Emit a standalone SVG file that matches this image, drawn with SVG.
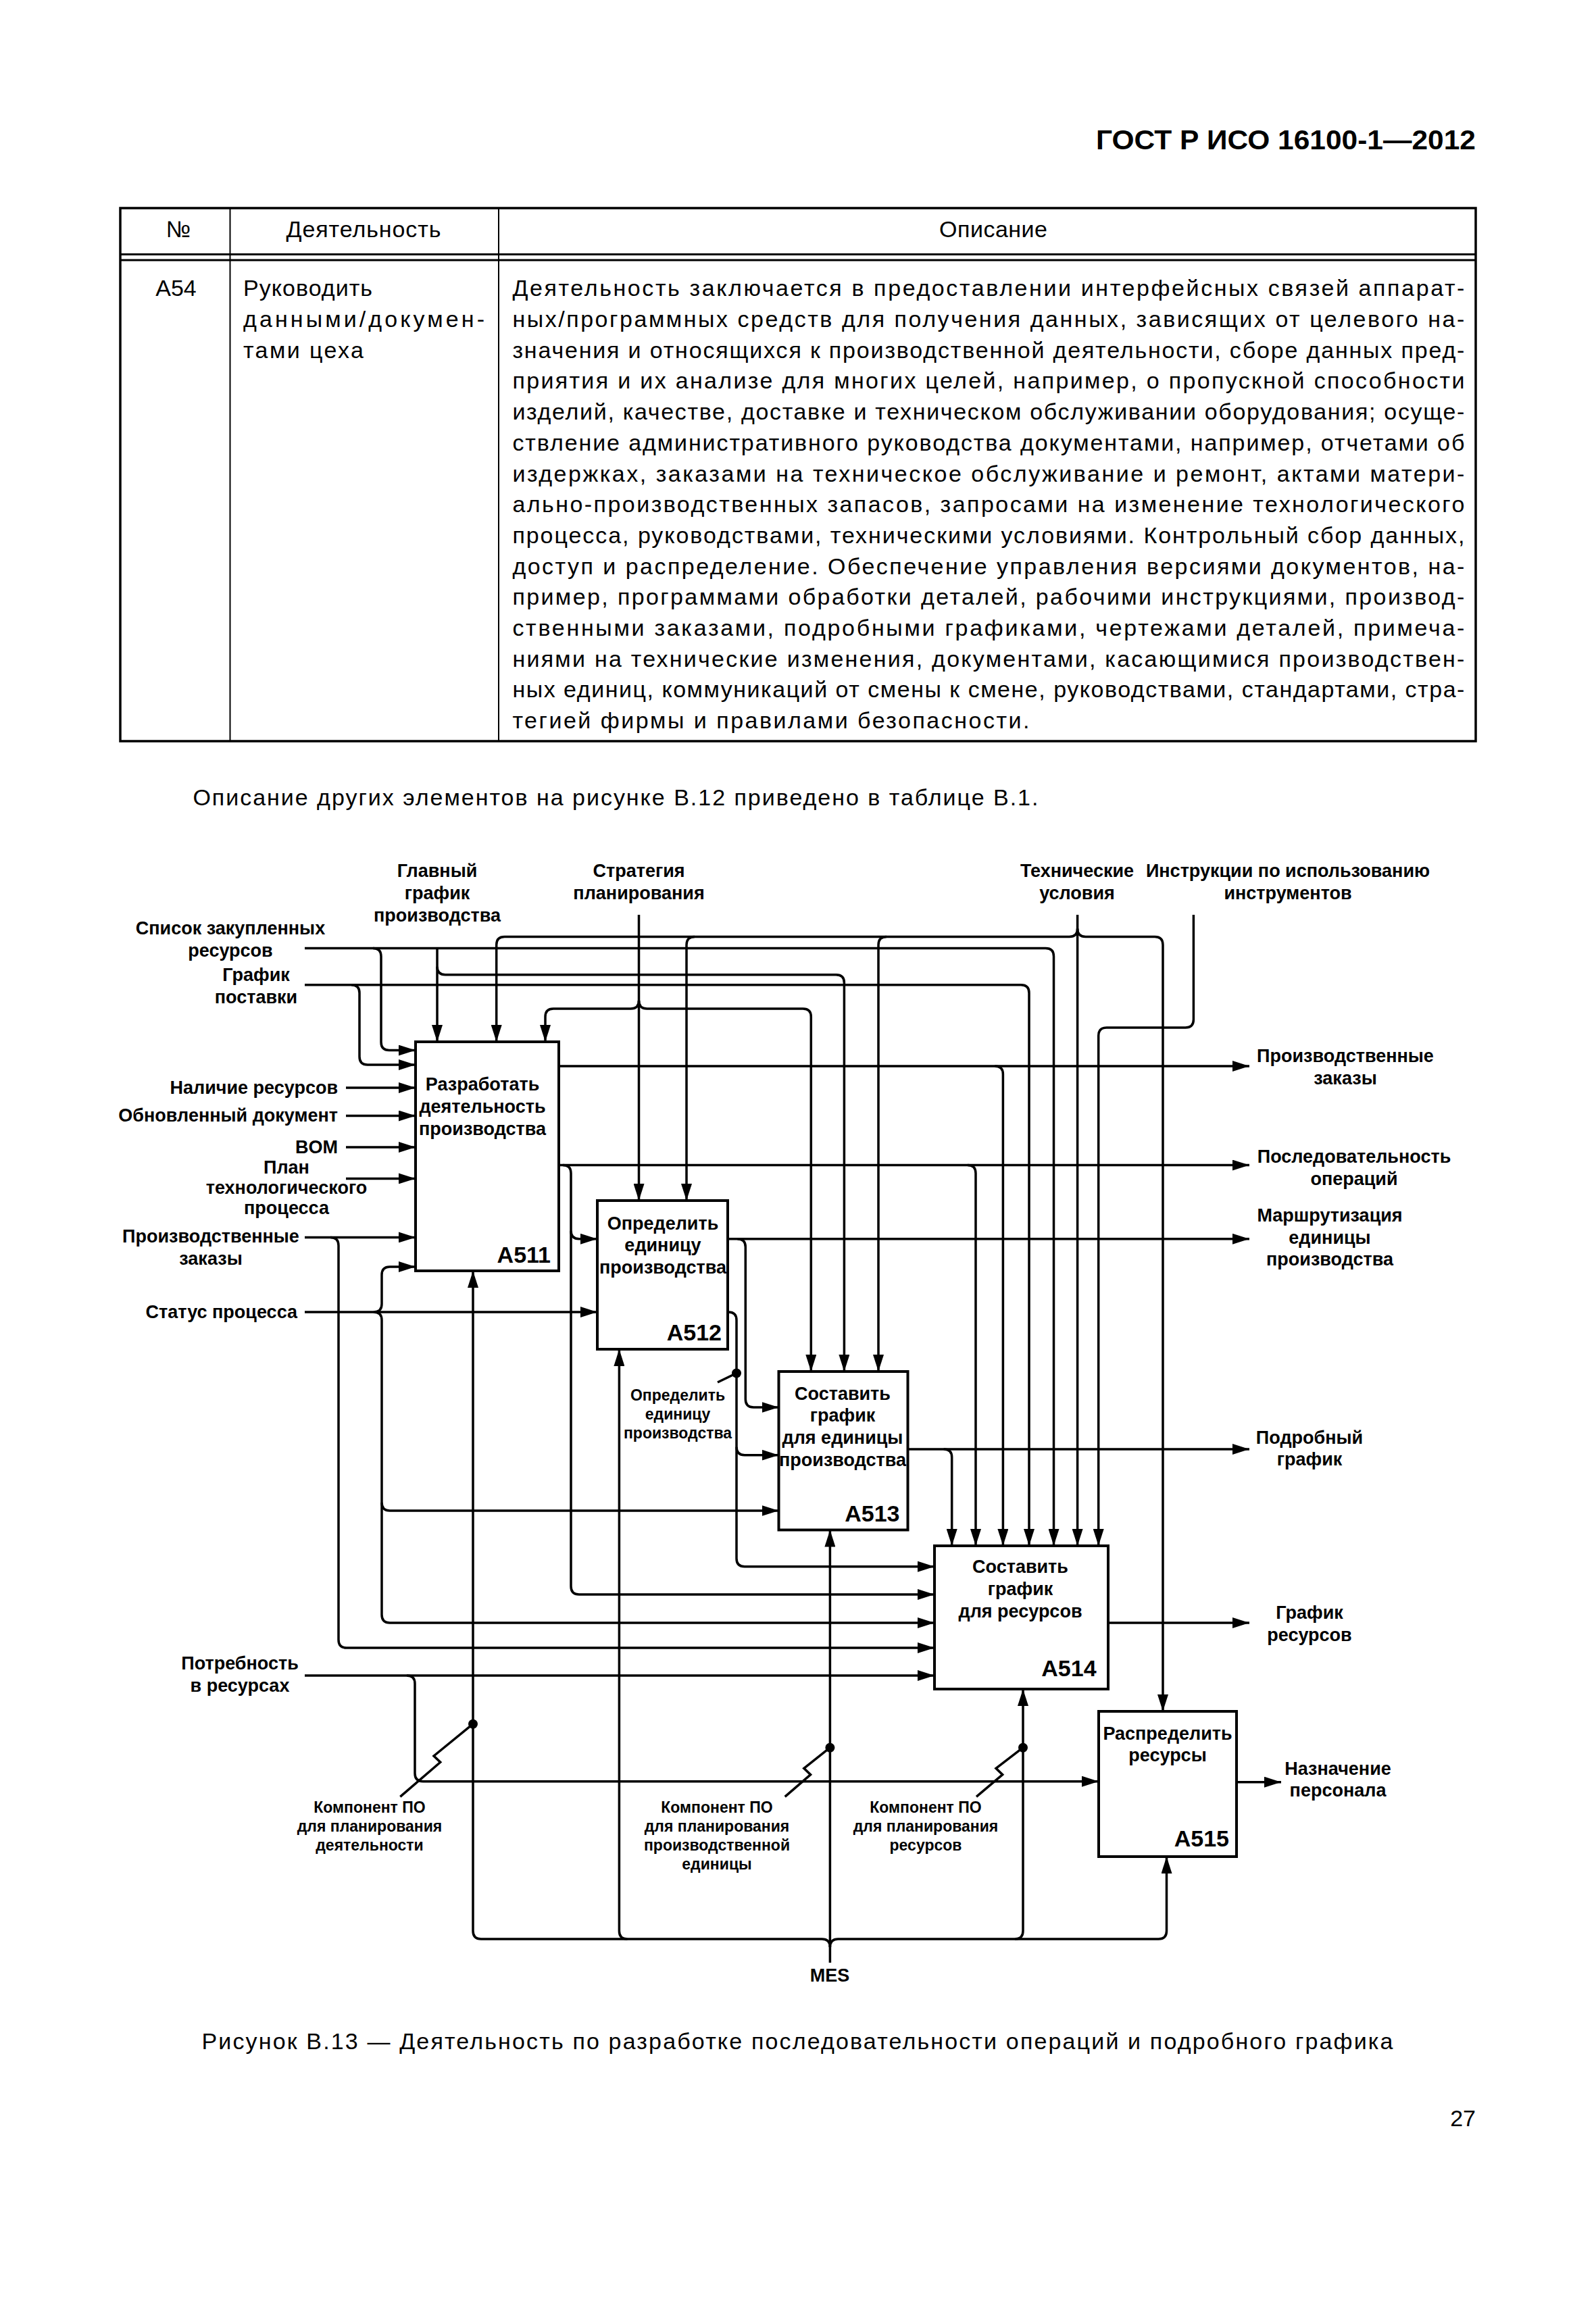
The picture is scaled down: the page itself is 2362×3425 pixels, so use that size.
<svg xmlns="http://www.w3.org/2000/svg" width="2362" height="3425" viewBox="0 0 2362 3425">
<style>
.t{font-family:"Liberation Sans",Arial,sans-serif;font-size:34px;fill:#000}
.tm{text-anchor:middle}
.d{font-family:"Liberation Sans",Arial,sans-serif;font-size:27px;font-weight:bold;text-anchor:middle;fill:#000}
.de{text-anchor:end}
.s{font-family:"Liberation Sans",Arial,sans-serif;font-size:23px;font-weight:bold;text-anchor:middle;fill:#000}
.id{font-family:"Liberation Sans",Arial,sans-serif;font-size:34px;font-weight:bold;text-anchor:end;fill:#000}
.c{fill:none;stroke:#000;stroke-width:3.5}
.a{marker-end:url(#ah)}
.box{fill:#fff;stroke:#000;stroke-width:4}
.tb{fill:none;stroke:#000}
</style>
<defs>
<marker id="ah" markerUnits="userSpaceOnUse" markerWidth="26" markerHeight="16" refX="25" refY="8" orient="auto"><path d="M0,0 L25,8 L0,16 Z" fill="#000"/></marker>
</defs>
<rect width="2362" height="3425" fill="#fff"/>
<text x="2184" y="221" text-anchor="end" font-family="Liberation Sans, Arial, sans-serif" font-weight="bold" font-size="41" textLength="562" lengthAdjust="spacingAndGlyphs">ГОСТ Р ИСО 16100-1—2012</text>
<g id="table">
<rect class="tb" x="178" y="308" width="2006" height="789" stroke-width="3.5"/>
<line class="tb" x1="340.5" y1="308" x2="340.5" y2="1097" stroke-width="2"/>
<line class="tb" x1="738" y1="308" x2="738" y2="1097" stroke-width="2"/>
<line class="tb" x1="178" y1="376.5" x2="2184" y2="376.5" stroke-width="2.8"/>
<line class="tb" x1="178" y1="385" x2="2184" y2="385" stroke-width="2.8"/>
<text class="t tm" x="264" y="351">№</text>
<text class="t tm" x="538" y="351" textLength="229" lengthAdjust="spacing">Деятельность</text>
<text class="t tm" x="1470" y="351" textLength="160" lengthAdjust="spacing">Описание</text>
<text class="t tm" x="260.5" y="438">A54</text>
<text class="t" x="360" y="438.3" textLength="191" lengthAdjust="spacing">Руководить</text>
<text class="t" x="360" y="484" textLength="357" lengthAdjust="spacing">данными/докумен-</text>
<text class="t" x="360" y="529.7" textLength="178" lengthAdjust="spacing">тами цеха</text>
<text class="t" x="758.4" y="438.3" textLength="1409" lengthAdjust="spacing">Деятельность заключается в предоставлении интерфейсных связей аппарат-</text>
<text class="t" x="758.4" y="484" textLength="1409" lengthAdjust="spacing">ных/программных средств для получения данных, зависящих от целевого на-</text>
<text class="t" x="758.4" y="529.7" textLength="1409" lengthAdjust="spacing">значения и относящихся к производственной деятельности, сборе данных пред-</text>
<text class="t" x="758.4" y="575.4" textLength="1409" lengthAdjust="spacing">приятия и их анализе для многих целей, например, о пропускной способности</text>
<text class="t" x="758.4" y="621.1" textLength="1409" lengthAdjust="spacing">изделий, качестве, доставке и техническом обслуживании оборудования; осуще-</text>
<text class="t" x="758.4" y="666.8" textLength="1409" lengthAdjust="spacing">ствление административного руководства документами, например, отчетами об</text>
<text class="t" x="758.4" y="712.5" textLength="1409" lengthAdjust="spacing">издержках, заказами на техническое обслуживание и ремонт, актами матери-</text>
<text class="t" x="758.4" y="758.2" textLength="1409" lengthAdjust="spacing">ально-производственных запасов, запросами на изменение технологического</text>
<text class="t" x="758.4" y="803.9" textLength="1409" lengthAdjust="spacing">процесса, руководствами, техническими условиями. Контрольный сбор данных,</text>
<text class="t" x="758.4" y="849.6" textLength="1409" lengthAdjust="spacing">доступ и распределение. Обеспечение управления версиями документов, на-</text>
<text class="t" x="758.4" y="895.3" textLength="1409" lengthAdjust="spacing">пример, программами обработки деталей, рабочими инструкциями, производ-</text>
<text class="t" x="758.4" y="941" textLength="1409" lengthAdjust="spacing">ственными заказами, подробными графиками, чертежами деталей, примеча-</text>
<text class="t" x="758.4" y="986.7" textLength="1409" lengthAdjust="spacing">ниями на технические изменения, документами, касающимися производствен-</text>
<text class="t" x="758.4" y="1032.4" textLength="1409" lengthAdjust="spacing">ных единиц, коммуникаций от смены к смене, руководствами, стандартами, стра-</text>
<text class="t" x="758.4" y="1078.1" textLength="765" lengthAdjust="spacing">тегией фирмы и правилами безопасности.</text>
</g>
<text class="t" x="285.4" y="1192" textLength="1251" lengthAdjust="spacing">Описание других элементов на рисунке В.12 приведено в таблице В.1.</text>

<g id="connectors">
<!-- Список закупленных ресурсов -->
<path class="c a" d="M451,1403.5 H1547.5 Q1559.5,1403.5 1559.5,1415.5 V2288"/>
<path class="c a" d="M552,1403.5 Q564,1403.5 564,1415.5 V1542.6 Q564,1554.6 576,1554.6 H615"/>
<!-- График поставки -->
<path class="c a" d="M451,1457.7 H1511 Q1523,1457.7 1523,1469.7 V2288"/>
<path class="c a" d="M520,1457.7 Q532,1457.7 532,1469.7 V1564 Q532,1576 544,1576 H615"/>
<!-- simple inputs -->
<path class="c a" d="M512,1610 H615"/>
<path class="c a" d="M512,1651.5 H615"/>
<path class="c a" d="M512,1698 H615"/>
<path class="c a" d="M512,1744.4 H615"/>
<!-- Производственные заказы (input) -->
<path class="c a" d="M451,1831.4 H615"/>
<path class="c a" d="M489,1831.4 Q501,1831.4 501,1843.4 V2427 Q501,2439 513,2439 H1383"/>
<!-- Статус процесса -->
<path class="c a" d="M451,1942 H884"/>
<path class="c a" d="M553,1942 Q565,1942 565,1930 V1887 Q565,1875 577,1875 H615"/>
<path class="c a" d="M553,1942 Q565,1942 565,1954 V2224 Q565,2236 577,2236 H1152.5"/>
<path class="c a" d="M565,2224 V2390 Q565,2402 577,2402 H1383"/>
<!-- Потребность в ресурсах -->
<path class="c a" d="M451,2480 H1383"/>
<path class="c a" d="M602,2480 Q614,2480 614,2492 V2624.7 Q614,2636.7 626,2636.7 H1626"/>
<!-- Главный график производства -->
<path class="c a" d="M647,1404 V1542"/>
<path class="c a" d="M647,1430.7 Q647,1442.7 659,1442.7 H1237.4 Q1249.4,1442.7 1249.4,1454.7 V2030"/>
<!-- Стратегия планирования -->
<path class="c a" d="M945.5,1354 V1777"/>
<path class="c a" d="M945.5,1481 Q945.5,1493 933.5,1493 H819 Q807,1493 807,1505 V1542"/>
<path class="c a" d="M945.5,1481 Q945.5,1493 957.5,1493 H1188.3 Q1200.3,1493 1200.3,1505 V2030"/>
<!-- Технические условия -->
<path class="c a" d="M1594.6,1354 V2288"/>
<path class="c a" d="M1594.6,1374.5 Q1594.6,1386.5 1582.6,1386.5 H746.7 Q734.7,1386.5 734.7,1398.5 V1542"/>
<path class="c a" d="M1594.6,1374.5 Q1594.6,1386.5 1606.6,1386.5 H1709 Q1721,1386.5 1721,1398.5 V2533"/>
<path class="c a" d="M1028,1386.5 Q1016,1386.5 1016,1398.5 V1777"/>
<path class="c a" d="M1312,1386.5 Q1300,1386.5 1300,1398.5 V2030"/>
<!-- Инструкции -->
<path class="c a" d="M1766.4,1354 V1509 Q1766.4,1521 1754.4,1521 H1637.7 Q1625.7,1521 1625.7,1533 V2288"/>
<!-- A511 outputs -->
<path class="c a" d="M827,1578 H1849"/>
<path class="c a" d="M1472.4,1578 Q1484.4,1578 1484.4,1590 V2288"/>
<path class="c a" d="M827,1724.6 H1849"/>
<path class="c a" d="M1432,1724.6 Q1444,1724.6 1444,1736.6 V2288"/>
<path class="c a" d="M833,1724.6 Q845,1724.6 845,1736.6 V1821.8 Q845,1833.8 857,1833.8 H884"/>
<path class="c a" d="M845,1821.8 V2348 Q845,2360 857,2360 H1383"/>
<!-- A512 outputs -->
<path class="c a" d="M1077,1833.8 H1849"/>
<path class="c a" d="M1091.3,1833.8 Q1103.3,1833.8 1103.3,1845.8 V2071 Q1103.3,2083 1115.3,2083 H1152.5"/>
<path class="c a" d="M1077,1942 H1078 Q1090,1942 1090,1954 V2141.7 Q1090,2153.7 1102,2153.7 H1152.5"/>
<path class="c a" d="M1090,2141.7 V2306.7 Q1090,2318.7 1102,2318.7 H1383"/>
<!-- A513 output -->
<path class="c a" d="M1343.4,2145 H1849"/>
<path class="c a" d="M1396.7,2145 Q1408.7,2145 1408.7,2157 V2288"/>
<!-- A514 output -->
<path class="c a" d="M1640,2402 H1849"/>
<!-- A515 output -->
<path class="c a" d="M1830,2637.7 H1896"/>
<!-- MES -->
<path class="c a" d="M1228.4,2905 V2264.5"/>
<path class="c a" d="M1228.4,2882 Q1228.4,2870 1216.4,2870 H712 Q700,2870 700,2858 V1881"/>
<path class="c a" d="M928.4,2870 Q916.4,2870 916.4,2858 V1997"/>
<path class="c a" d="M1228.4,2882 Q1228.4,2870 1240.4,2870 H1714.5 Q1726.5,2870 1726.5,2858 V2748"/>
<path class="c a" d="M1502,2870 Q1514,2870 1514,2858 V2500"/>
<!-- call arrows -->
<circle cx="700" cy="2551.7" r="7"/>
<path class="c" d="M700,2551.7 L642,2599 L651.7,2608.3 L592.3,2659.3"/>
<circle cx="1228.4" cy="2586.7" r="7"/>
<path class="c" d="M1228.4,2586.7 L1189.8,2617.3 L1199.6,2626.7 L1161.7,2659.3"/>
<circle cx="1514" cy="2586.7" r="7"/>
<path class="c" d="M1514,2586.7 L1474,2617.3 L1483.7,2626.7 L1445,2659.3"/>
<circle cx="1090" cy="2032.5" r="7"/>
<path class="c" d="M1090,2032.5 L1062,2046"/>
</g>

<g id="A511">
<rect class="box" x="615" y="1542" width="212" height="339"/>
<text class="d" x="714" y="1614">Разработать</text>
<text class="d" x="714" y="1647">деятельность</text>
<text class="d" x="714" y="1680">производства</text>
<text class="id" x="815" y="1869">A511</text>
</g>
<g id="A512">
<rect class="box" x="884" y="1777" width="193" height="220"/>
<text class="d" x="981" y="1820">Определить</text>
<text class="d" x="981" y="1852">единицу</text>
<text class="d" x="981" y="1885">производства</text>
<text class="id" x="1068" y="1984">A512</text>
</g>
<g id="A513">
<rect class="box" x="1152.5" y="2030" width="191" height="234.5"/>
<text class="d" x="1247" y="2072">Составить</text>
<text class="d" x="1247" y="2104">график</text>
<text class="d" x="1247" y="2137">для единицы</text>
<text class="d" x="1247" y="2170">производства</text>
<text class="id" x="1331.5" y="2252">A513</text>
</g>
<g id="A514">
<rect class="box" x="1383" y="2288" width="257" height="212"/>
<text class="d" x="1510" y="2328">Составить</text>
<text class="d" x="1510" y="2361">график</text>
<text class="d" x="1510" y="2394">для ресурсов</text>
<text class="id" x="1622.6" y="2481">A514</text>
</g>
<g id="A515">
<rect class="box" x="1626" y="2533" width="204" height="215"/>
<text class="d" x="1728" y="2575">Распределить</text>
<text class="d" x="1728" y="2607">ресурсы</text>
<text class="id" x="1819" y="2733">A515</text>
</g>

<g id="labels">
<text class="d" x="647" y="1298">Главный</text>
<text class="d" x="647" y="1331">график</text>
<text class="d" x="647" y="1364">производства</text>
<text class="d" x="945.5" y="1298">Стратегия</text>
<text class="d" x="945.5" y="1331">планирования</text>
<text class="d" x="1594" y="1298">Технические</text>
<text class="d" x="1594" y="1331">условия</text>
<text class="d" x="1906" y="1298">Инструкции по использованию</text>
<text class="d" x="1906" y="1331">инструментов</text>

<text class="d" x="341" y="1383">Список закупленных</text>
<text class="d" x="341" y="1416">ресурсов</text>
<text class="d" x="379" y="1452">График</text>
<text class="d" x="379" y="1485">поставки</text>
<text class="d de" x="500" y="1619">Наличие ресурсов</text>
<text class="d de" x="500" y="1660">Обновленный документ</text>
<text class="d de" x="500" y="1707">BOM</text>
<text class="d" x="424" y="1737">План</text>
<text class="d" x="424" y="1767">технологического</text>
<text class="d" x="424" y="1797">процесса</text>
<text class="d" x="312" y="1839">Производственные</text>
<text class="d" x="312" y="1872">заказы</text>
<text class="d de" x="440" y="1951">Статус процесса</text>
<text class="d" x="355" y="2471">Потребность</text>
<text class="d" x="355" y="2504">в ресурсах</text>

<text class="d" x="1991" y="1572">Производственные</text>
<text class="d" x="1991" y="1605">заказы</text>
<text class="d" x="2004" y="1721">Последовательность</text>
<text class="d" x="2004" y="1754">операций</text>
<text class="d" x="1968" y="1808">Маршрутизация</text>
<text class="d" x="1968" y="1841">единицы</text>
<text class="d" x="1968" y="1873">производства</text>
<text class="d" x="1938" y="2137">Подробный</text>
<text class="d" x="1938" y="2169">график</text>
<text class="d" x="1938" y="2396">График</text>
<text class="d" x="1938" y="2429">ресурсов</text>
<text class="d" x="1980" y="2627">Назначение</text>
<text class="d" x="1980" y="2659">персонала</text>

<text class="d" x="1228" y="2933">MES</text>

<text class="s" x="547" y="2683">Компонент ПО</text>
<text class="s" x="547" y="2711">для планирования</text>
<text class="s" x="547" y="2739">деятельности</text>
<text class="s" x="1061" y="2683">Компонент ПО</text>
<text class="s" x="1061" y="2711">для планирования</text>
<text class="s" x="1061" y="2739">производственной</text>
<text class="s" x="1061" y="2767">единицы</text>
<text class="s" x="1370" y="2683">Компонент ПО</text>
<text class="s" x="1370" y="2711">для планирования</text>
<text class="s" x="1370" y="2739">ресурсов</text>
<text class="s" x="1003" y="2073">Определить</text>
<text class="s" x="1003" y="2101">единицу</text>
<text class="s" x="1003" y="2129">производства</text>
</g>

<text class="t" x="298.5" y="3033" textLength="1763" lengthAdjust="spacing">Рисунок В.13 — Деятельность по разработке последовательности операций и подробного графика</text>
<text class="t" x="2184" y="3147" text-anchor="end">27</text>
</svg>
